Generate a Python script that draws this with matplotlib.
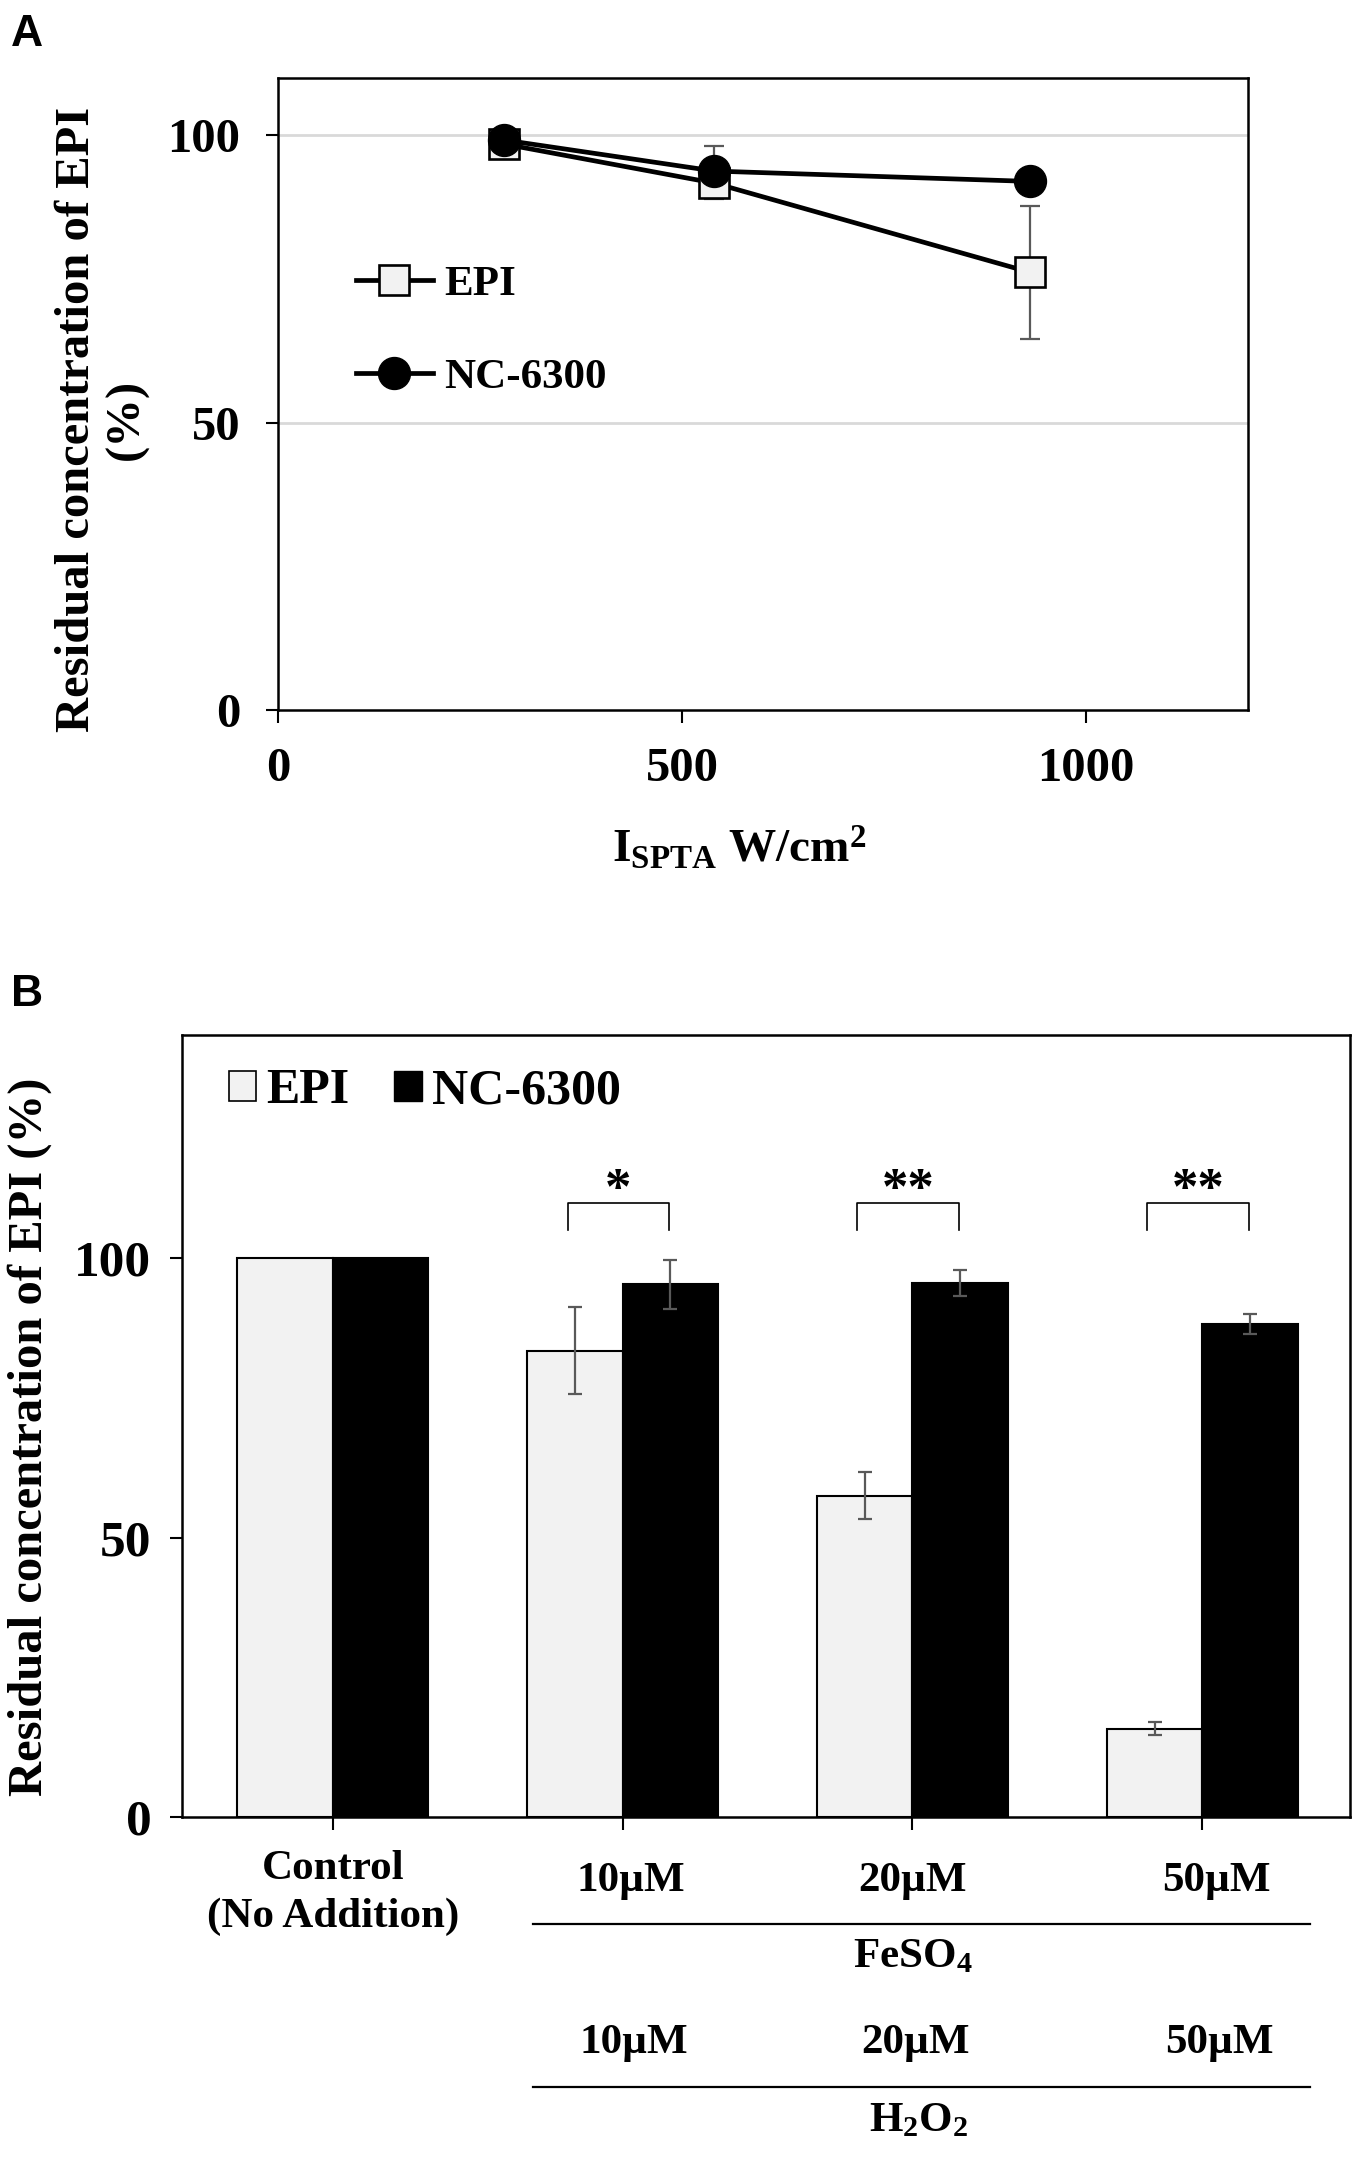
import matplotlib
matplotlib.use("Agg")
import matplotlib.pyplot as plt
from matplotlib.patches import Patch
import numpy as np

# ---------------- data ----------------
# Panel A
ispta = [280, 540, 930]
epi_a = [98.5, 91.7, 76.2]
epi_a_err = [1.0, 2.7, 11.6]
nc_a = [99.2, 93.8, 92.0]
nc_a_err = [0.5, 4.4, 0.5]

# Panel B
groups = ["Control\n(No Addition)", "10µM", "20µM", "50µM"]
epi_b = [100, 83.5, 57.5, 15.8]
epi_b_err = [0, 7.8, 4.2, 1.2]
nc_b = [100, 95.4, 95.6, 88.3]
nc_b_err = [0, 4.4, 2.4, 1.8]
conc_labels = ["10µM", "20µM", "50µM"]
stars = ["*", "**", "**"]

SERIF = "Liberation Serif"
SANS = "Liberation Sans"
plt.rcParams["font.family"] = [SERIF, "DejaVu Serif"]
plt.rcParams["font.weight"] = "bold"
plt.rcParams["mathtext.fontset"] = "custom"
plt.rcParams["mathtext.rm"] = "Liberation Serif:bold"
plt.rcParams["mathtext.it"] = "Liberation Serif:bold"
plt.rcParams["mathtext.bf"] = "Liberation Serif:bold"

fig = plt.figure(figsize=(13.68, 21.67), dpi=100)

# ---------------- Panel A ----------------
axA = fig.add_axes([0.2032, 0.6724, 0.709, 0.2916])
axA.set_xlim(0, 1200)
axA.set_ylim(0, 110)
for y in [50, 100]:
    axA.axhline(y, color="#d9d9d9", lw=2, zorder=0)

axA.errorbar(ispta, epi_a, yerr=epi_a_err, fmt="none", ecolor="#595959",
             elinewidth=1.6, capsize=7, capthick=1.6, zorder=2)
axA.errorbar(ispta, nc_a, yerr=nc_a_err, fmt="none", ecolor="#595959",
             elinewidth=1.6, capsize=7, capthick=1.6, zorder=2)
axA.plot(ispta, epi_a, "-", color="black", lw=3.4, marker="s", ms=22,
         mfc="#f2f2f2", mec="black", mew=1.9, zorder=3, label="EPI")
axA.plot(ispta, nc_a, "-", color="black", lw=3.4, marker="o", ms=23,
         mfc="black", mec="black", zorder=4, label="NC-6300")

axA.set_xticks([0, 500, 1000])
axA.set_yticks([0, 50, 100])
axA.tick_params(axis="both", direction="out", length=9, width=1.5,
                labelsize=35, pad=18)
for lab in axA.get_xticklabels() + axA.get_yticklabels():
    lab.set_fontweight("bold")
for s in axA.spines.values():
    s.set_linewidth(1.8)

legA = axA.legend(loc="center left", bbox_to_anchor=(0.080, 0.60),
                  frameon=False, fontsize=31, handlelength=1.8,
                  handletextpad=0.25, labelspacing=1.25, borderpad=0,
                  borderaxespad=0, numpoints=1)
for t in legA.get_texts():
    t.set_fontweight("bold")

fig.text(0.0745, 0.8065, "Residual concentration of EPI\n(%)", rotation=90,
         ha="center", va="center", multialignment="center", fontsize=35,
         fontweight="bold", linespacing=1.15)
fig.text(0.540, 0.6085, r"I$_{SPTA}$ W/cm$^{2}$", ha="center", va="center",
         fontsize=34, fontweight="bold")
fig.text(0.008, 0.9935, "A", ha="left", va="top", fontsize=32,
         fontweight="bold", family=SANS)

# ---------------- Panel B ----------------
axB = fig.add_axes([0.133, 0.1615, 0.854, 0.3609])
x = np.arange(len(groups))
w = 0.33
axB.bar(x - w / 2, epi_b, width=w, color="#f2f2f2", edgecolor="black",
        linewidth=1.5, zorder=2)
axB.bar(x + w / 2, nc_b, width=w, color="black", edgecolor="black",
        linewidth=1.5, zorder=2)
axB.errorbar(x[1:] - w / 2, epi_b[1:], yerr=epi_b_err[1:], fmt="none",
             ecolor="#595959", elinewidth=1.6, capsize=5, capthick=1.6, zorder=3)
axB.errorbar(x[1:] + w / 2, nc_b[1:], yerr=nc_b_err[1:], fmt="none",
             ecolor="#595959", elinewidth=1.6, capsize=5, capthick=1.6, zorder=3)

axB.set_xlim(-0.52, 3.51)
axB.set_ylim(0, 140)
axB.set_xticks(x)
axB.set_xticklabels([])
axB.set_yticks([0, 50, 100])
axB.tick_params(axis="both", direction="out", length=9, width=1.5,
                labelsize=37, pad=13)
for lab in axB.get_yticklabels():
    lab.set_fontweight("bold")
for s in axB.spines.values():
    s.set_linewidth(1.8)

# significance brackets
for i, st in enumerate(stars):
    xi = x[i + 1]
    xl, xr = xi - 0.19, xi + 0.16
    axB.plot([xl, xl, xr, xr], [105, 110, 110, 105], color="black", lw=1.2,
             zorder=3)
    axB.text((xl + xr) / 2, 112.0, st, ha="center", va="center", fontsize=38,
             fontweight="bold")

legB = axB.legend(handles=[Patch(facecolor="#f2f2f2", edgecolor="black", lw=1.2),
                           Patch(facecolor="black", edgecolor="black")],
                  labels=["EPI", "NC-6300"], loc="center left",
                  bbox_to_anchor=(0.040, 0.928), ncol=2, frameon=False,
                  fontsize=36, handlelength=0.55, handleheight=0.55,
                  handletextpad=0.2, columnspacing=0.9, borderpad=0,
                  borderaxespad=0)
for t in legB.get_texts():
    t.set_fontweight("bold")

tr = axB.get_xaxis_transform()
axB.text(x[0], -0.097, groups[0], transform=tr, ha="center", va="center",
         multialignment="center", fontsize=31, fontweight="bold",
         linespacing=1.3)
offs = [0.03, 0.0, 0.05]
for i, lab in enumerate(conc_labels):
    axB.text(x[i + 1] + offs[i], -0.082, lab, transform=tr, ha="center",
             va="center", fontsize=31, fontweight="bold")
    axB.text(x[i + 1] + offs[i] + 0.01, -0.289, lab, transform=tr,
             ha="center", va="center", fontsize=31, fontweight="bold")
axB.plot([0.69, 3.37], [-0.1366, -0.1366], transform=tr, clip_on=False,
         color="black", lw=1.6)
axB.plot([0.69, 3.37], [-0.345, -0.345], transform=tr, clip_on=False,
         color="black", lw=1.6)
axB.text(2.0, -0.179, r"FeSO$_4$", transform=tr, ha="center", va="center",
         fontsize=31, fontweight="bold")
axB.text(2.02, -0.389, r"H$_2$O$_2$", transform=tr, ha="center", va="center",
         fontsize=31, fontweight="bold")

fig.text(0.022, 0.337, "Residual concentration of EPI (%)", rotation=90,
         ha="center", va="center", fontsize=35, fontweight="bold")
fig.text(0.008, 0.5505, "B", ha="left", va="top", fontsize=32,
         fontweight="bold", family=SANS)

fig.savefig("out.png", dpi=100, facecolor="white")
